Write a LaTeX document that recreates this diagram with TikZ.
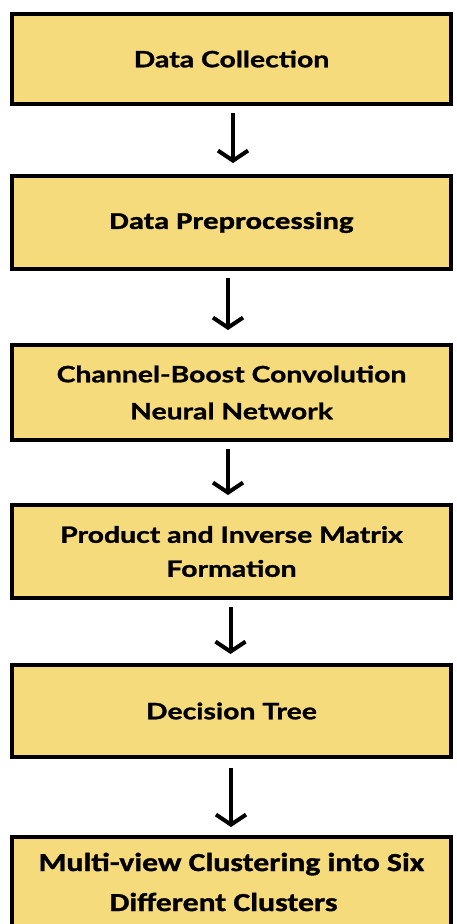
\documentclass[tikz,border=0pt]{standalone}
\usepackage{fontspec}
\setmainfont{Lato}
\newfontfamily\gillfont[FakeStretch=1.26, BoldFeatures={FakeBold=1.2}]{Lato}
\newfontfamily\calfont[FakeStretch=1.28, BoldFeatures={FakeBold=1.2}]{Carlito}
\newfontfamily\calwidefont[FakeStretch=1.22, BoldFeatures={FakeBold=1.2}]{Carlito}
\usetikzlibrary{arrows.meta}
\definecolor{boxfill}{RGB}{246,219,124}
\tikzset{
  stagebox/.style={draw=black, line width=4.5pt, fill=boxfill, minimum width=439pt, outer sep=0pt, inner sep=0pt, align=center, font=\gillfont\fontsize{22.5}{37}\selectfont\bfseries},
  flowarrow/.style={line width=4pt, -{Straight Barb[length=10pt,width=30pt,line width=4pt]}, shorten <=9pt, shorten >=13pt}
}
\begin{document}
\begin{tikzpicture}[x=1pt,y=-1pt]
\useasboundingbox (0,0) rectangle (456,924);
\clip (0,0) rectangle (456,924);
\fill[white] (0,0) rectangle (456,924);
\node[stagebox, minimum height=90pt] (b1) at (231.5,59) {Data Collection};
\node[stagebox, minimum height=93pt, font=\calfont\fontsize{24}{37}\selectfont\bfseries] (b2) at (231.5,222.5) {Data Preprocessing};
\node[stagebox, minimum height=95pt] (b3) at (231.5,392.5) {Channel-Boost Convolution\\Neural Network};
\node[stagebox, minimum height=93pt, font=\gillfont\fontsize{22.5}{34}\selectfont\bfseries] (b4) at (231.5,551.5) {Product and Inverse Matrix\\Formation};
\node[stagebox, minimum height=92pt] (b5) at (231.5,711) {Decision Tree};
\node[stagebox, minimum height=90pt, font=\calwidefont\fontsize{26}{40}\selectfont\bfseries] (b6) at (231.5,882) {Multi-view Clustering into Six\\Different Clusters\hspace*{16pt}};
\draw[flowarrow] ([xshift=1.5pt]b1.south) -- ([xshift=1.5pt]b2.north);
\draw[flowarrow, shorten >=15pt] ([xshift=-3.5pt]b2.south) -- ([xshift=-3.5pt]b3.north);
\draw[flowarrow, shorten >=10pt] ([xshift=-3.5pt]b3.south) -- ([xshift=-3.5pt]b4.north);
\draw[flowarrow, shorten >=11pt] ([xshift=-1pt]b4.south) -- ([xshift=-1pt]b5.north);
\draw[flowarrow, shorten <=11pt, shorten >=10pt] ([xshift=-0.5pt]b5.south) -- ([xshift=-0.5pt]b6.north);
\end{tikzpicture}
\end{document}
